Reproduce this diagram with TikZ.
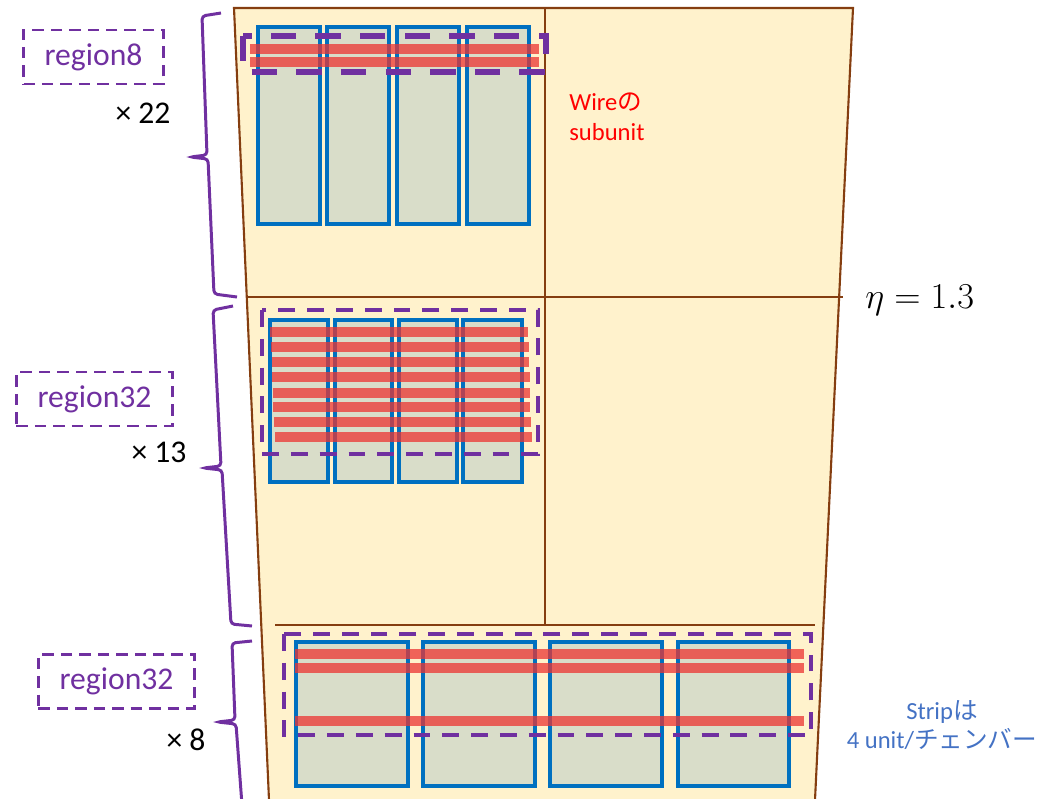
\documentclass[tikz,border=0pt]{standalone}
\usepackage{fontspec}
\setmainfont{Carlito}
\newfontfamily\jpfont{Noto Sans CJK JP}
\usepackage{xcolor}
\definecolor{bgyellow}{RGB}{255,242,204}
\definecolor{edgebrown}{RGB}{133,62,16}
\definecolor{unitblue}{RGB}{0,112,192}
\definecolor{unitgray}{RGB}{217,221,201}
\definecolor{stripred}{RGB}{236,52,50}
\definecolor{regpurple}{RGB}{112,48,160}
\definecolor{wirered}{RGB}{255,0,0}
\definecolor{stripblue}{RGB}{68,114,196}
\tikzset{
  % Kamera konturi
  edgeline/.style  = {draw=edgebrown, line width=1.2pt},
  % Unit va strip
  unitbox/.style   = {fill=unitgray, draw=unitblue, line width=2.2pt},
  stripbar/.style  = {fill=stripred, fill opacity=0.75, draw=none},
  % Region chegaralari
  regthick/.style  = {draw=regpurple, line width=3.4pt, dash pattern=on 14.5pt off 10.9pt},
  regmid/.style    = {draw=regpurple, line width=2.3pt, dash pattern=on 9.6pt off 6.8pt},
  bracepath/.style = {draw=regpurple, line width=1.7pt, rounded corners=2pt},
  % Etiketlar
  regionlbl/.style = {draw=regpurple, line width=1.4pt, dash pattern=on 6.5pt off 4pt,
                      text=regpurple, font=\fontsize{18}{22}\selectfont,
                      inner xsep=12pt, minimum height=30.6pt},
  multlbl/.style   = {font=\fontsize{18}{22}\selectfont, inner sep=0pt},
  notelbl/.style   = {font=\fontsize{14}{17}\selectfont, inner sep=0pt},
}
\begin{document}
\begin{tikzpicture}[x=0.02cm, y=-0.02cm]
  \useasboundingbox (0,0) rectangle (1041,798);
  % Kamera
  \fill[bgyellow] (234,8) -- (853,8) -- (815,800) -- (269,800) -- cycle;
  \draw[edgeline] (269,800) -- (234,8) -- (853,8) -- (815,800);
  \draw[edgeline] (545,8) -- (545,625);
  \draw[edgeline] (246,297) -- (843,297);
  \draw[edgeline] (275,625) -- (815,625);
  % region8: wire subunitlari
  \draw[unitbox] (258,27) rectangle (320,224);
  \draw[unitbox] (327,27) rectangle (389,224);
  \draw[unitbox] (397,27) rectangle (459,224);
  \draw[unitbox] (467,27) rectangle (529,224);
  \fill[stripbar] (250,44) rectangle (539,54);
  \fill[stripbar] (250,57) rectangle (539,67);
  \draw[regthick] (243,36) rectangle (546,72);
  % region32 (o'rta)
  \draw[unitbox] (270,320) rectangle (328,482);
  \draw[unitbox] (335,320) rectangle (392,482);
  \draw[unitbox] (399,320) rectangle (457,482);
  \draw[unitbox] (463,320) rectangle (522,482);
  \fill[stripbar] (270,327) rectangle (528,337);
  \fill[stripbar] (271,342) rectangle (529,352);
  \fill[stripbar] (272,357) rectangle (529,367);
  \fill[stripbar] (272,372) rectangle (530,382);
  \fill[stripbar] (273,388) rectangle (530,398);
  \fill[stripbar] (273,402) rectangle (530,412);
  \fill[stripbar] (274,417) rectangle (531,427);
  \fill[stripbar] (275,432) rectangle (532,442);
  \draw[regmid] (262,310) rectangle (538,454);
  % region32 (past): strip
  \draw[unitbox] (296,642) rectangle (408,786);
  \draw[unitbox] (423,642) rectangle (535,786);
  \draw[unitbox] (550,642) rectangle (662,786);
  \draw[unitbox] (678,642) rectangle (789,786);
  \fill[stripbar] (295,649) rectangle (804,659);
  \fill[stripbar] (295,663) rectangle (804,673);
  \fill[stripbar] (295,716) rectangle (804,726);
  \draw[regmid] (284,634) rectangle (811,735);
  % Qavslar
  \draw[bracepath] (221,13) -- (202,16) -- (207,155) -- (190,157) -- (208,159) -- (214,294) -- (237,297);
  \draw[bracepath] (233,306) -- (213,310) -- (221,466) -- (203,468) -- (222,470) -- (231,624) -- (252,626);
  \draw[bracepath] (252,641) -- (232,643) -- (235,720) -- (217,722) -- (236,724) -- (242,805);
  % Etiketlar
  \node[regionlbl] (regA) at (93.5,57) {region8};
  \node[regionlbl] (regB) at (94.5,399) {region32};
  \node[regionlbl] (regC) at (116.5,681.5) {region32};
  \node[multlbl] (multA) at (143,113) {× 22};
  \node[multlbl] (multB) at (159,452) {× 13};
  \node[multlbl] (multC) at (186,740) {× 8};
  \node[font=\fontsize{20.5}{24}\selectfont, anchor=west, inner sep=0pt] (etaLbl) at (865,300) {$\eta = 1.3$};
  \node[notelbl, text=wirered, align=left, anchor=west] (wireLbl) at (569,117) {Wire{\jpfont の}\\subunit};
  \node[notelbl, text=stripblue, align=center] (stripLbl) at (942,725) {Strip{\jpfont は}\\4 unit/{\jpfont チェンバー}};
\end{tikzpicture}
\end{document}
